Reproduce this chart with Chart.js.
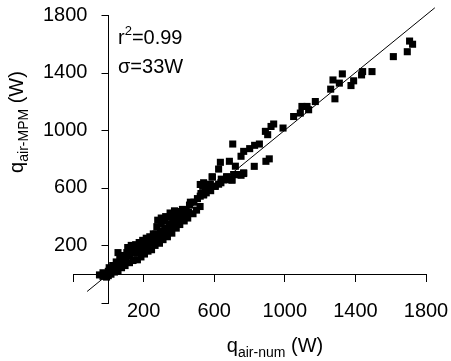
<!DOCTYPE html>
<html>
<head>
<meta charset="UTF-8">
<title>qair MPM vs num</title>
<script src="https://cdn.jsdelivr.net/npm/chart.js@4.4.1/dist/chart.umd.min.js"></script>
<style>
  body { margin: 0; background: #fff; }
  #holder { width: 451px; height: 361px; }
</style>
</head>
<body>
<div id="holder"><canvas id="chart"></canvas></div>
<script>
// q_air-num (x) and q_air-MPM (y), in W
var qNum = [
  -50, -30, -30, -15, -10, 0, 0, 5, 15, 20, 25, 35, 40, 45, 55, 55, 60, 65, 75, 80,
  85, 95, 100, 105, 110, 120, 120, 125, 130, 140, 145, 150, 155, 165, 165, 170, 175, 185, 185, 190,
  195, 205, 205, 210, 215, 225, 225, 230, 235, 245, 245, 250, 255, 265, 265, 270, 275, 280, 290, 290,
  295, 300, 300, 310, 315, 320, 320, 325, 335, 340, 345, 345, 350, 360, 360, 365, 370, 375, 385, 385,
  390, 395, 405, 410, 415, 420, 430, 435, 440, 450, 455, 460, 465, 480, 485, 500, 505, 520, 521, 521,
  525, 535, 540, 540, 540, 550, 555, 560, 575, 578, 578, 580, 588, 590, 605, 606, 625, 625, 635, 638,
  640, 654, 655, 670, 672, 682, 685, 686, 700, 701, 705, 710, 720, 729, 730, 752, 752, 767, 767, 767,
  801, 827, 829, 856, 890, 893, 903, 912, 922, 937, 990, 1050, 1088, 1097, 1126, 1135, 1173, 1260, 1273, 1284,
  1309, 1326, 1375, 1390, 1435, 1441, 1494, 1615, 1694, 1707, 1724
];
var qMpm = [
  -5, -15, 10, 5, -20, -10, 20, 45, 0, 30, 60, 15, 50, 85, 25, 150, 70, 110, 45, 90,
  130, 60, 110, 150, 185, 80, 130, 170, 200, 95, 145, 185, 205, 100, 150, 190, 220, 120, 165, 205,
  235, 140, 180, 220, 250, 160, 200, 235, 260, 170, 215, 250, 280, 200, 240, 280, 330, 375, 215, 255,
  300, 350, 390, 240, 280, 320, 370, 400, 260, 300, 345, 395, 425, 285, 330, 370, 410, 440, 320, 360,
  400, 435, 345, 385, 425, 450, 370, 410, 445, 390, 430, 480, 500, 420, 500, 445, 525, 470, 542, 623,
  560, 610, 550, 635, 554, 588, 565, 590, 625, 600, 623, 580, 676, 675, 610, 611, 625, 730, 777, 635,
  660, 657, 655, 676, 676, 657, 660, 784, 655, 653, 904, 692, 750, 692, 692, 687, 819, 704, 853, 699,
  872, 749, 895, 904, 992, 784, 969, 801, 1026, 1043, 1015, 1095, 1119, 1165, 1165, 1142, 1199, 1285, 1349, 1218,
  1327, 1391, 1310, 1343, 1384, 1407, 1407, 1511, 1545, 1619, 1597
];
// 1:1 line
var lineEnds = [-120, 1850];
var tickMin = -200, tickMax = 1800, tickStep = 400;

var points = qNum.map(function (x, i) { return { x: x, y: qMpm[i] }; });
var diag = lineEnds.map(function (v) { return { x: v, y: v }; });

Chart.defaults.font.family = "'Liberation Sans', Arial, sans-serif";
Chart.defaults.font.size = 20;
Chart.defaults.color = '#000';

function drawRuns(ctx, runs, x, y) {
  // runs: [text, size, dy]
  var cx = x;
  runs.forEach(function (r) {
    ctx.font = r[1] + "px 'Liberation Sans', Arial, sans-serif";
    ctx.fillText(r[0], cx, y + r[2]);
    cx += ctx.measureText(r[0]).width;
  });
}
function runsWidth(ctx, runs) {
  var w = 0;
  runs.forEach(function (r) {
    ctx.font = r[1] + "px 'Liberation Sans', Arial, sans-serif";
    w += ctx.measureText(r[0]).width;
  });
  return w;
}

var textPlugin = {
  id: 'texts',
  afterDraw: function (chart) {
    var ctx = chart.ctx;
    ctx.save();
    ctx.fillStyle = '#000';
    ctx.textBaseline = 'alphabetic';
    ctx.textAlign = 'left';

    // y tick marks, left of the x=0 axis (the crossing axis doesn't draw them)
    var sy = chart.scales.y, x0 = Math.round(chart.scales.x.getPixelForValue(0)) + 0.5;
    ctx.strokeStyle = '#000';
    ctx.lineWidth = 1;
    sy.ticks.forEach(function (t) {
      var py = Math.round(sy.getPixelForValue(t.value)) + 0.5;
      ctx.beginPath();
      ctx.moveTo(x0 - 7, py);
      ctx.lineTo(x0, py);
      ctx.stroke();
    });

    var xTitle = [['q', 20, 0], ['air-num', 14, 5], [' (W)', 20, 0]];
    var w = runsWidth(ctx, xTitle);
    drawRuns(ctx, xTitle, 275 - w / 2, 352);

    var yTitle = [['q', 20, 0], ['air-MPM', 14, 5], [' (W)', 20, 0]];
    w = runsWidth(ctx, yTitle);
    ctx.save();
    ctx.translate(23, 122);
    ctx.rotate(-Math.PI / 2);
    drawRuns(ctx, yTitle, -w / 2, 0);
    ctx.restore();

    drawRuns(ctx, [['r', 20, 0], ['2', 13, -9], ['=0.99', 20, 0]], 118, 44);
    drawRuns(ctx, [['\u03c3=33W', 20, 0]], 118, 73);
    ctx.restore();
  }
};

var tickMarks = { display: true, drawOnChartArea: false, drawTicks: true, tickLength: 7, color: '#000' };
function hideMin(v) { return v === tickMin ? '' : v; }

var ctx = document.getElementById('chart').getContext('2d');
new Chart(ctx, {
  type: 'scatter',
  data: {
    datasets: [{
      label: 'MPM',
      data: points,
      pointStyle: 'rect',
      pointRadius: 5,
      borderWidth: 0,
      backgroundColor: '#000',
      borderColor: '#000'
    }, {
      label: '1:1',
      data: diag,
      showLine: true,
      pointRadius: 0,
      borderWidth: 1,
      borderColor: '#000',
      clip: false
    }]
  },
  options: {
    responsive: true,
    maintainAspectRatio: false,
    animation: false,
    layout: { padding: { left: 33, right: 25, top: 14, bottom: 58 } },
    plugins: { legend: { display: false }, tooltip: { enabled: false } },
    scales: {
      x: {
        type: 'linear',
        position: { y: 0 },
        min: tickMin, max: tickMax,
        grid: tickMarks,
        border: { display: true, color: '#000', width: 1 },
        ticks: { stepSize: tickStep, padding: 18, maxRotation: 0, callback: hideMin },
        // the edge labels may hang past the plot, don't shrink it for them
        afterFit: function (s) { s.paddingLeft = 0; s.paddingRight = 0; }
      },
      y: {
        type: 'linear',
        position: { x: 0 },
        min: tickMin, max: tickMax,
        grid: { display: false },
        border: { display: true, color: '#000', width: 1 },
        ticks: { stepSize: tickStep, callback: function () { return ''; } }
      },
      // label column for the y axis; mirrored so the labels sit by the x=0 axis
      yLab: {
        type: 'linear',
        axis: 'y',
        position: 'left',
        min: tickMin, max: tickMax,
        grid: { display: false },
        border: { display: false },
        ticks: { stepSize: tickStep, mirror: true, crossAlign: 'far', padding: -30, callback: hideMin },
        afterFit: function (scale) { scale.width = 40; }
      }
    }
  },
  plugins: [textPlugin]
});
</script>
</body>
</html>
